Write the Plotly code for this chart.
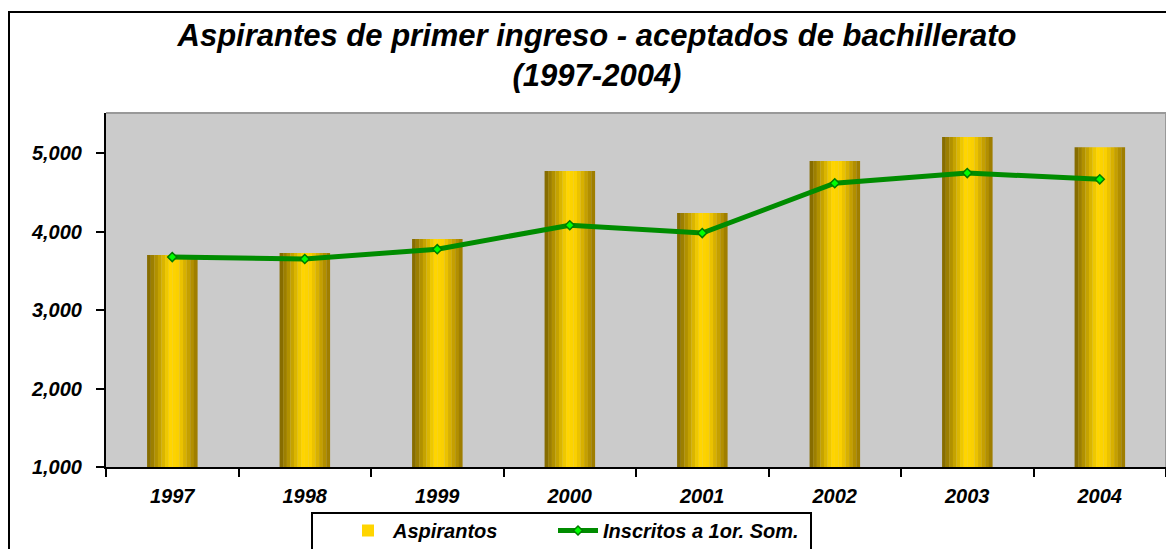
import plotly.graph_objects as go

# data
years = ['1997', '1998', '1999', '2000', '2001', '2002', '2003', '2004']
aspirantes = [3700, 3725, 3905, 4770, 4235, 4900, 5205, 5075]
inscritos = [3675, 3650, 3775, 4080, 3980, 4615, 4745, 4665]
y_ticks = [1000, 2000, 3000, 4000, 5000]

FONT = "Liberation Sans Narrow, Liberation Sans, Arial"

# the page body has an 8px margin, so the figure is laid out in a 1166x541 box
W, H = 1166, 541
OFF = 8
PL, PR, PT, PB = 106 - OFF, 1166 - OFF, 113 - OFF, 467 - OFF  # plot area in figure px
PW, PH = PR - PL, PB - PT


def px_x(x):
    return (x - OFF - PL) / PW


def px_y(y):
    return (PB - (y - OFF)) / PH


def mix(c1, c2, t):
    return tuple(round(a + (b - a) * t) for a, b in zip(c1, c2))


def gold_at(t):
    # dark olive -> bright gold -> darker gold, like the cylinder shading
    stops = [(0.0, (125, 100, 0)), (0.45, (255, 214, 0)), (0.62, (250, 208, 0)), (1.0, (150, 118, 0))]
    for (t0, c0), (t1, c1) in zip(stops, stops[1:]):
        if t <= t1:
            return mix(c0, c1, (t - t0) / (t1 - t0))
    return stops[-1][1]


fig = go.Figure()

bar_w = 0.38
n_strips = 14
strip_w = bar_w / n_strips
for i in range(n_strips):
    r, g, b = gold_at((i + 0.5) / n_strips)
    fig.add_trace(go.Bar(
        x=years, y=aspirantes,
        width=strip_w * 1.05,
        offset=-bar_w / 2 + i * strip_w,
        marker=dict(color=f'rgb({r},{g},{b})', line=dict(width=0)),
        name='Aspirantos',
        legend='legend',
        legendgroup='asp',
        showlegend=(i == 6),
        hoverinfo='skip' if i != 6 else None,
    ))

fig.add_trace(go.Scatter(
    x=years, y=inscritos,
    mode='lines+markers',
    name='Inscritos a 1or. Som.',
    legend='legend2',
    line=dict(color='#008c00', width=5),
    marker=dict(symbol='diamond', size=7, color='#00ff00',
                line=dict(color='#007a00', width=1.5)),
))

legend_font = dict(family=FONT, size=20, color='black', weight='bold', style='italic')

fig.update_layout(
    width=W, height=H,
    margin=dict(l=PL, r=W - PR, t=PT, b=H - PB, autoexpand=False),
    paper_bgcolor='white',
    plot_bgcolor='#cbcbcb',
    barmode='overlay',
    showlegend=True,
    title=dict(
        text='Aspirantes de primer ingreso - aceptados de bachillerato<br>(1997-2004)',
        x=px_x(597), xanchor='center', xref='paper',
        y=1 - 38 / H, yanchor='top',
        font=dict(family='Liberation Sans, Arial', size=31, color='black',
                  style='italic', weight='bold'),
    ),
    legend=dict(
        orientation='h', x=px_x(343), y=px_y(511), xanchor='left', yanchor='top',
        bgcolor='rgba(0,0,0,0)', borderwidth=0, font=legend_font, itemwidth=40,
    ),
    legend2=dict(
        orientation='h', x=px_x(553), y=px_y(511), xanchor='left', yanchor='top',
        bgcolor='rgba(0,0,0,0)', borderwidth=0, font=legend_font, itemwidth=40,
    ),
    xaxis=dict(
        type='category', automargin=False,
        showline=True, linecolor='black', linewidth=2,
        ticks='outside', ticklen=8, tickwidth=1.5, tickcolor='black',
        tickson='boundaries', ticklabelstandoff=10,
        showgrid=False,
        tickfont=dict(family=FONT, size=20, color='black', weight='bold', style='italic'),
    ),
    yaxis=dict(
        range=[1000, 5510], automargin=False,
        tickvals=y_ticks, tickformat=',',
        showline=True, linecolor='black', linewidth=2,
        ticks='outside', ticklen=8, tickwidth=1.5, tickcolor='black',
        ticklabelstandoff=10,
        showgrid=False, zeroline=False,
        tickfont=dict(family=FONT, size=20, color='black', weight='bold', style='italic'),
    ),
    shapes=[
        # outer chart border
        dict(type='rect', xref='paper', yref='paper',
             x0=px_x(9), x1=px_x(1200), y0=px_y(600), y1=px_y(12),
             line=dict(color='black', width=2), layer='below'),
        # plot area top/right edge
        dict(type='line', xref='paper', yref='paper', x0=0, x1=1, y0=1, y1=1,
             line=dict(color='#999999', width=2)),
        dict(type='line', xref='paper', yref='paper', x0=1, x1=1, y0=0, y1=1,
             line=dict(color='#999999', width=2)),
        # legend box
        dict(type='rect', xref='paper', yref='paper',
             x0=px_x(312), x1=px_x(811), y0=px_y(600), y1=px_y(513),
             line=dict(color='black', width=2)),
    ],
)

fig.write_html("out.html")
